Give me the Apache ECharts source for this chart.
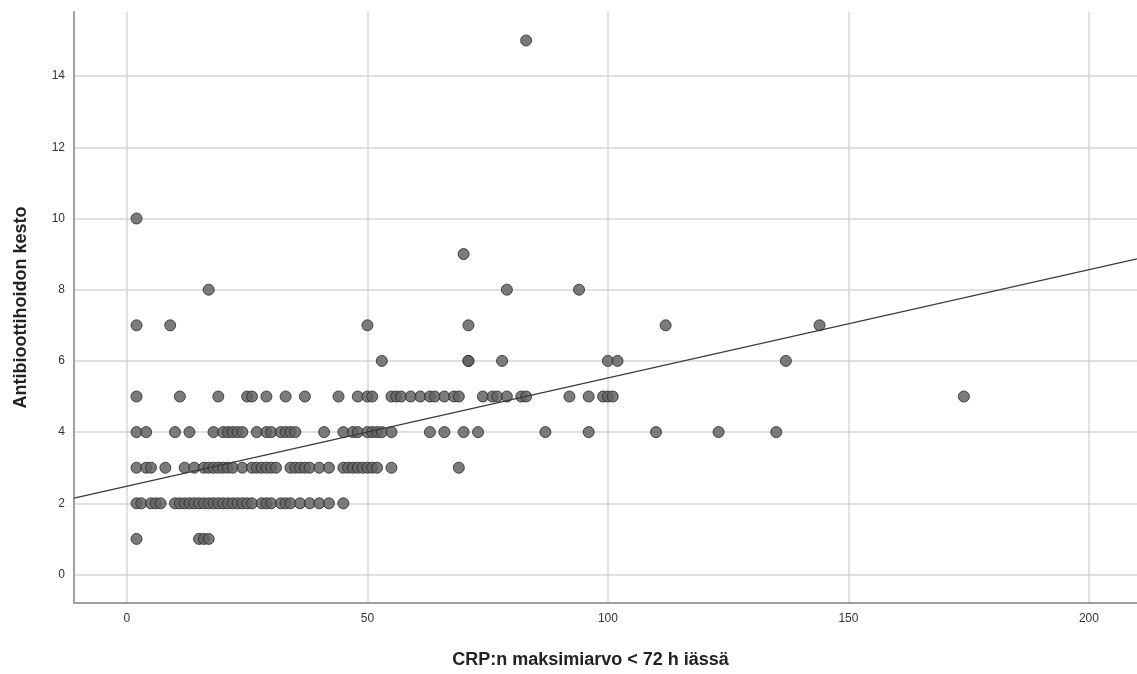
<!DOCTYPE html>
<html>
<head>
<meta charset="utf-8">
<script src="https://cdn.jsdelivr.net/npm/echarts@6/dist/echarts.min.js"></script>
<style>
  html, body { margin: 0; padding: 0; background: #fff; }
  #chart { width: 1137px; height: 674px; }
</style>
</head>
<body>
<div id="chart"></div>
<script>
// CRP values (x) grouped by antibiotic duration (y, days)
var crpDays1 = [2, 15, 16, 17];
var crpDays2 = [2, 3, 5, 6, 7, 10, 11, 12, 13, 14, 15, 16, 17, 18, 19, 20, 21, 22, 23, 24, 25, 26, 28, 29, 30, 32, 33, 34, 36, 38, 40, 42, 45];
var crpDays3 = [2, 4, 5, 8, 12, 14, 16, 17, 18, 19, 20, 21, 22, 24, 26, 27, 28, 29, 30, 31, 34, 35, 36, 37, 38, 40, 42, 45, 46, 47, 48, 49, 50, 51, 52, 55, 69];
var crpDays4 = [2, 4, 10, 13, 18, 20, 21, 22, 23, 24, 27, 29, 30, 32, 33, 34, 35, 41, 45, 47, 48, 50, 51, 52, 53, 55, 63, 66, 70, 73, 87, 96, 110, 123, 135];
var crpDays5 = [2, 11, 19, 25, 26, 29, 33, 37, 44, 48, 50, 51, 55, 56, 57, 59, 61, 63, 64, 66, 68, 69, 74, 76, 77, 79, 82, 83, 92, 96, 99, 100, 101, 174];
var crpDays6 = [53, 71, 71, 78, 100, 102, 137];
var crpDays7 = [2, 9, 50, 71, 112, 144];
var crpDays8 = [17, 79, 94];
var crpDays9 = [70];
var crpDays10 = [2];
var crpDays15 = [83];

var xTicks = [0, 50, 100, 150, 200];
var yTicks = [0, 2, 4, 6, 8, 10, 12, 14];
var xRange = [-11, 210];
var yRange = [-0.8, 15.8];

// fit line
var fitIntercept = 2.48;
var fitSlope = 0.0304;

var groups = [
    [1, crpDays1], [2, crpDays2], [3, crpDays3], [4, crpDays4], [5, crpDays5],
    [6, crpDays6], [7, crpDays7], [8, crpDays8], [9, crpDays9], [10, crpDays10], [15, crpDays15]
];
var points = [];
groups.forEach(function (g) {
    g[1].forEach(function (x) { points.push([x, g[0]]); });
});

var fitLine = [
    [xRange[0], fitIntercept + fitSlope * xRange[0]],
    [xRange[1], fitIntercept + fitSlope * xRange[1]]
];

var myChart = echarts.init(document.getElementById('chart'));
var option = {
    backgroundColor: '#fff',
    animation: false,
    grid: {
        left: 74,
        right: 0,
        top: 12,
        bottom: 70
    },
    xAxis: {
        type: 'value',
        min: xRange[0],
        max: xRange[1],
        name: 'CRP:n maksimiarvo < 72 h iässä',
        nameLocation: 'middle',
        nameGap: 48,
        nameTextStyle: {
            fontFamily: 'Liberation Sans',
            fontSize: 18,
            fontWeight: 'bold',
            color: '#222',
            padding: [0, 30, 0, 0]
        },
        axisLine: { show: true, onZero: false, lineStyle: { color: '#a0a0a0', width: 2 } },
        axisTick: { show: false, customValues: xTicks },
        axisLabel: {
            customValues: xTicks,
            margin: 10,
            fontFamily: 'Liberation Sans',
            fontSize: 12,
            color: '#333'
        },
        splitLine: { show: true, lineStyle: { color: '#d6d6d6', width: 1.5 } }
    },
    yAxis: {
        type: 'value',
        min: yRange[0],
        max: yRange[1],
        name: 'Antibioottihoidon kesto',
        nameLocation: 'middle',
        nameRotate: 90,
        nameGap: 44,
        nameTextStyle: {
            fontFamily: 'Liberation Sans',
            fontSize: 18,
            fontWeight: 'bold',
            color: '#222'
        },
        axisLine: { show: true, onZero: false, lineStyle: { color: '#a0a0a0', width: 2 } },
        axisTick: { show: false, customValues: yTicks },
        axisLabel: {
            customValues: yTicks,
            margin: 9,
            fontFamily: 'Liberation Sans',
            fontSize: 12,
            color: '#333'
        },
        splitLine: { show: true, lineStyle: { color: '#d6d6d6', width: 1.5 } }
    },
    series: [
        {
            type: 'scatter',
            data: points,
            symbol: 'circle',
            symbolSize: 11,
            itemStyle: {
                color: '#646464',
                opacity: 0.85,
                borderColor: '#2e2e2e',
                borderWidth: 1
            },
            z: 3
        },
        {
            type: 'line',
            data: fitLine,
            showSymbol: false,
            silent: true,
            lineStyle: { color: '#3a3a3a', width: 1.3 },
            z: 4
        }
    ]
};
myChart.setOption(option);
</script>
</body>
</html>
